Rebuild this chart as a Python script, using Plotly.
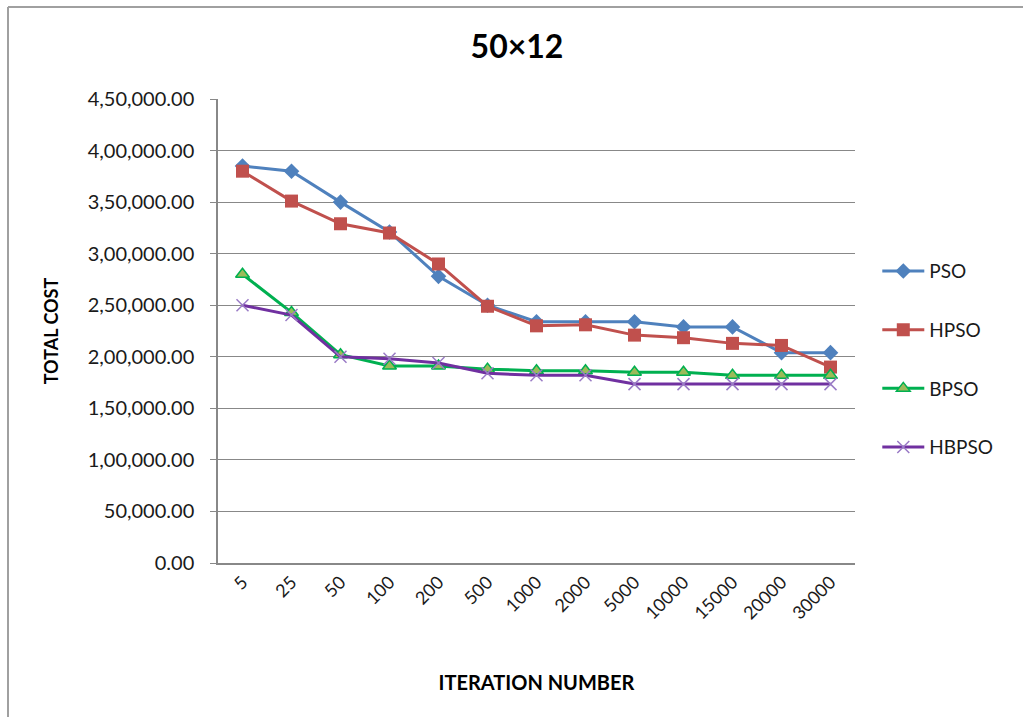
import plotly.graph_objects as go

categories = ["5", "25", "50", "100", "200", "500", "1000", "2000", "5000",
              "10000", "15000", "20000", "30000"]
pso = [385000, 380000, 350000, 321000, 278000, 250000, 234000, 234000, 234000,
       229000, 229000, 204000, 204000]
hpso = [380000, 351000, 329000, 320000, 290000, 249000, 230000, 231000, 221000,
        218500, 213000, 211000, 190000]
bpso = [280000, 243000, 202000, 191000, 191000, 188000, 186500, 186500, 185000,
        185000, 182000, 182000, 182000]
hbpso = [250000, 240500, 200000, 198000, 194000, 184000, 182000, 182000, 173500,
         173500, 173500, 173500, 173500]
ytick_vals = [0, 50000, 100000, 150000, 200000, 250000, 300000, 350000, 400000, 450000]
ytick_text = ["0.00", "50,000.00", "1,00,000.00", "1,50,000.00", "2,00,000.00",
              "2,50,000.00", "3,00,000.00", "3,50,000.00", "4,00,000.00", "4,50,000.00"]

FONT = "Lato"
TEXT = "#1a1a1a"

fig = go.Figure()
fig.add_trace(go.Scatter(
    x=categories, y=pso, name="PSO", mode="lines+markers", legendgroup="a",
    line=dict(color="#4F81BD", width=3),
    marker=dict(symbol="diamond", size=12, color="#4F81BD")))
fig.add_trace(go.Scatter(
    x=categories, y=hpso, name="HPSO", mode="lines+markers", legendgroup="b",
    line=dict(color="#C0504D", width=3),
    marker=dict(symbol="square", size=13, color="#C0504D")))
fig.add_trace(go.Scatter(
    x=categories, y=bpso, name="BPSO", mode="lines+markers", legendgroup="c",
    line=dict(color="#00B050", width=3),
    marker=dict(symbol="triangle-up", size=12, color="#9BBB59",
                line=dict(color="#00B050", width=1.5))))
fig.add_trace(go.Scatter(
    x=categories, y=hbpso, name="HBPSO", mode="lines+markers", legendgroup="d",
    line=dict(color="#7030A0", width=3),
    marker=dict(symbol="x-thin", size=12, color="#9A7BC6",
                line=dict(color="#9A7BC6", width=1.5))))

fig.update_layout(
    width=1023, height=717,
    margin=dict(l=218, r=168, t=99, b=154),
    paper_bgcolor="white", plot_bgcolor="white",
    font=dict(family=FONT, size=18, color=TEXT),
    title=dict(text="<b>50×12</b>", x=517/1023, xanchor="center",
               y=1 - 47/717, yanchor="middle",
               font=dict(family=FONT, size=32, color="#000000")),
    showlegend=True,
    legend=dict(x=1.035, xanchor="left", y=0.67, yanchor="top",
                font=dict(family=FONT, size=19, color=TEXT),
                itemwidth=42,
                tracegroupgap=31, bgcolor="rgba(0,0,0,0)"),
    xaxis=dict(type="category", tickangle=-45, showgrid=False,
               showline=True, linecolor="#888888", linewidth=1.5,
               ticks="", tickfont=dict(family=FONT, size=18, color=TEXT),
               title=dict(text="<b>ITERATION NUMBER</b>", standoff=54,
                          font=dict(family=FONT, size=20, color="#000000")),
               range=[-0.5, 12.5], fixedrange=True),
    yaxis=dict(range=[0, 450000], tickvals=ytick_vals, ticktext=ytick_text,
               showgrid=True, gridcolor="#888888", gridwidth=1,
               showline=True, linecolor="#888888", linewidth=1.5,
               ticks="outside", ticklen=6, tickcolor="#888888",
               ticklabelstandoff=12,
               tickfont=dict(family=FONT, size=20, color=TEXT),
               zeroline=False,
               title=dict(text="<b>TOTAL COST</b>", standoff=24,
                          font=dict(family=FONT, size=18, color="#000000"))),
)

# outer chart frame (left and top edges visible)
fig.add_shape(type="line", xref="paper", yref="paper",
              x0=(8 - 218) / 637, x1=(8 - 218) / 637,
              y0=(563 - 730) / 464, y1=(563 - 7) / 464,
              line=dict(color="#A0A0A0", width=2))
fig.add_shape(type="line", xref="paper", yref="paper",
              x0=(8 - 218) / 637, x1=(1030 - 218) / 637,
              y0=(563 - 7) / 464, y1=(563 - 7) / 464,
              line=dict(color="#A0A0A0", width=2))

fig.write_html("out.html")
